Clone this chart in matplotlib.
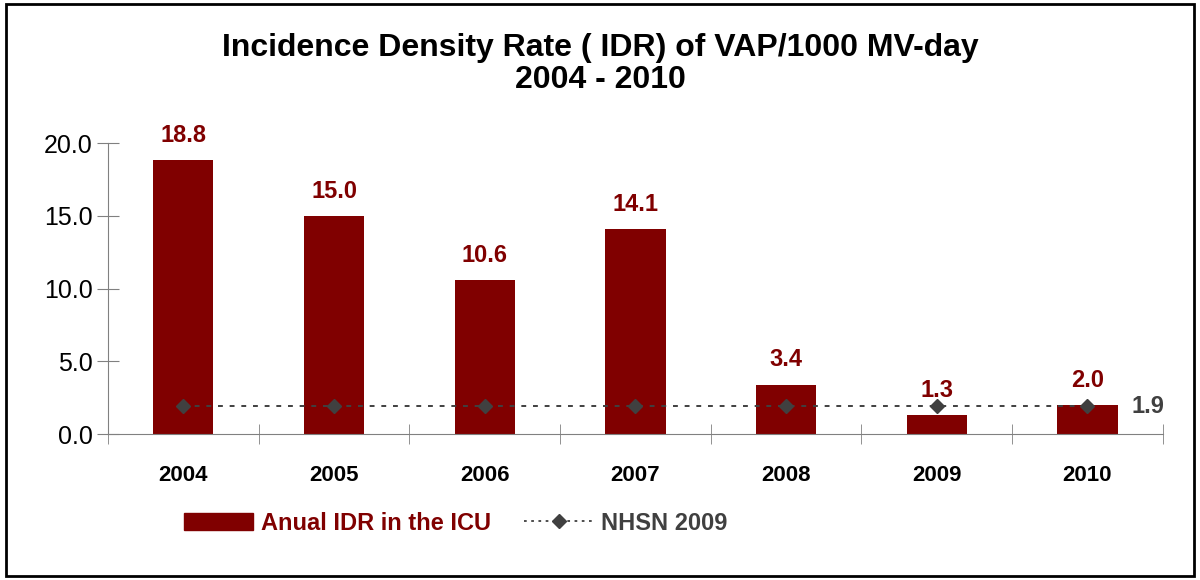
import numpy as np
import matplotlib.pyplot as plt
from matplotlib.patches import Rectangle
from matplotlib.lines import Line2D
from matplotlib.patches import Patch

years = ["2004", "2005", "2006", "2007", "2008", "2009", "2010"]
idr_icu = [18.8, 15.0, 10.6, 14.1, 3.4, 1.3, 2.0]
nhsn = [1.9, 1.9, 1.9, 1.9, 1.9, 1.9, 1.9]
y_ticks = [0, 5, 10, 15, 20]

plt.rcParams['font.family'] = ['Liberation Sans', 'DejaVu Sans']

red = "#800000"
grey = "#404040"

fig = plt.figure(figsize=(12, 5.8), dpi=100)
ax = fig.add_axes([0.09, 0.2517, 0.879, 0.5017])

x = np.arange(len(years))
ax.bar(x, idr_icu, width=0.4, color=red)
for xi, v in zip(x, idr_icu):
    ax.text(xi, v + 0.9, "%.1f" % v, ha="center", va="bottom", color=red,
            fontsize=17, fontweight="bold")

ax.plot(x, nhsn, linestyle=(0, (2.5, 3.5)), color=grey, lw=1.4, marker="D",
        markersize=7, markerfacecolor=grey, markeredgecolor=grey)
ax.text(x[-1] + 0.29, nhsn[-1], "%.1f" % nhsn[-1], ha="left", va="center", color=grey,
        fontsize=17, fontweight="bold")

ax.set_xlim(-0.5, len(years) - 0.5)
ax.set_ylim(0, 20)
ax.set_yticks(y_ticks)
ax.set_yticklabels(["%.1f" % t for t in y_ticks], fontsize=18)
ax.set_xticks(x)
ax.set_xticklabels(years, fontsize=16, fontweight="bold")
ax.tick_params(axis="x", length=0, pad=22)
ax.set_xticks(np.arange(len(years) + 1) - 0.5, minor=True)
ax.tick_params(axis="x", which="minor", direction="inout", length=14, color="#808080")
ax.tick_params(axis="y", direction="inout", length=16, color="#808080", pad=3)
for s in ["top", "right"]:
    ax.spines[s].set_visible(False)
for s in ["left", "bottom"]:
    ax.spines[s].set_color("#808080")

fig.text(0.5, 0.918, "Incidence Density Rate ( IDR) of VAP/1000 MV-day", ha="center",
         va="center", fontsize=23, fontweight="bold")
fig.text(0.5, 0.862, "2004 - 2010", ha="center", va="center", fontsize=23, fontweight="bold")

handles = [Patch(color=red),
           Line2D([0], [0], linestyle=(0, (1.5, 2.5)), color=grey, lw=1.3, marker="D",
                  markersize=7, markerfacecolor=grey)]
leg = fig.legend(handles, ["Anual IDR in the ICU", "NHSN 2009"], loc="center left",
                 bbox_to_anchor=(0.136, 0.098), ncol=2, frameon=False,
                 handlelength=2.9, handleheight=0.7, columnspacing=1.4, handletextpad=0.35,
                 prop={'weight': 'bold', 'size': 17})
leg.get_texts()[0].set_color(red)
leg.get_texts()[1].set_color(grey)

fig.patches.append(Rectangle((0.005, 0.007), 0.99, 0.986, transform=fig.transFigure,
                             fill=False, edgecolor="black", lw=2))

fig.savefig("out.png", dpi=100)
